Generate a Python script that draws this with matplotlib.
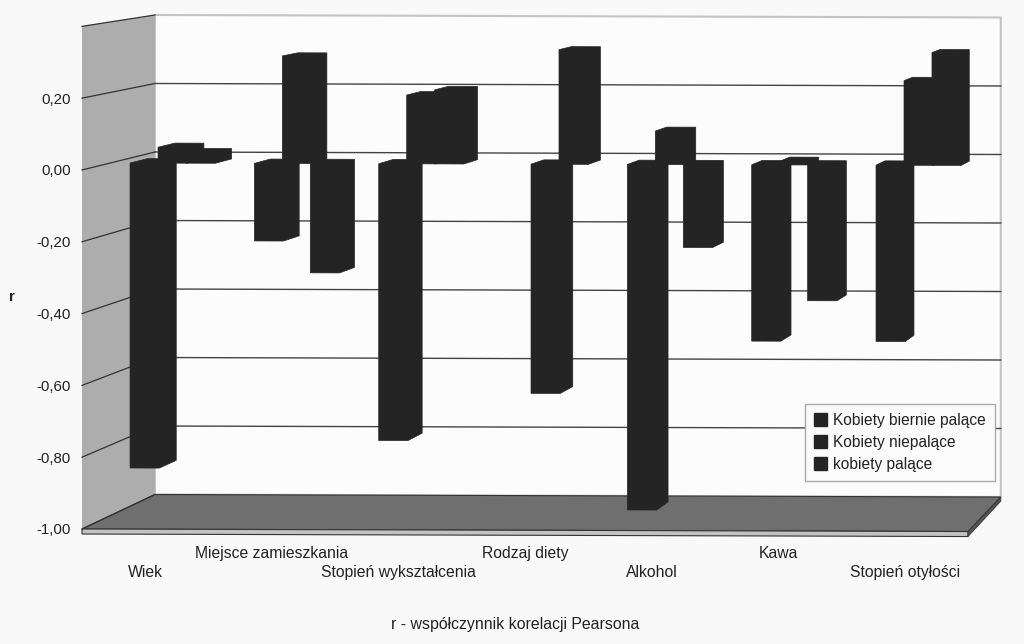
import matplotlib
matplotlib.use("Agg")
import matplotlib.pyplot as plt
from matplotlib.patches import Patch

plt.rcParams["font.family"] = ["Liberation Sans", "DejaVu Sans"]

# Values
categories = ["Wiek", "Miejsce zamieszkania", "Stopień wykształcenia", "Rodzaj diety",
              "Alkohol", "Kawa", "Stopień otyłości"]
biernie = [-0.865, -0.22, -0.785, None, -0.98, -0.50, -0.50]
niepalace = [0.045, 0.305, 0.195, -0.65, 0.095, 0.01, 0.24]
palace = [0.03, -0.31, 0.21, 0.325, -0.235, -0.385, 0.32]
series_names = ["Kobiety biernie palące", "Kobiety niepalące", "kobiety palące"]
r_ticks = [-1.0, -0.8, -0.6, -0.4, -0.2, 0.0, 0.2]
r_top = 0.4

BAR = "#242424"
GRID = "#444444"
EDGE = "#c4c4c4"


# Excel style 3D: move a point of the front plane back to depth d (0 front, 1 back wall)
def project(x, r, d):
    left = -0.5 + d * 0.5766
    right = 6.5 + d * 0.259
    xp = left + (x + 0.5) / 7 * (right - left)
    yp = r * (1 - 0.046 * d) + 0.0501 * d - 0.007 * (x + 0.5) / 7
    return xp, yp


def poly(ax, pts, **kw):
    xy = [project(*p) for p in pts]
    ax.fill([p[0] for p in xy], [p[1] for p in xy], clip_on=False, **kw)


def line(ax, p1, p2, **kw):
    a = project(*p1)
    b = project(*p2)
    ax.plot([a[0], b[0]], [a[1], b[1]], clip_on=False, **kw)


fig = plt.figure(figsize=(10.24, 6.44), dpi=100, facecolor="#f9f9f9")
ax = fig.add_axes([82 / 1024, (644 - 529) / 644, 886 / 1024, 503 / 644])
ax.set_xlim(-0.5, 6.5)
ax.set_ylim(-1.0, r_top + 0.001)
ax.patch.set_alpha(0)
for s in ax.spines.values():
    s.set_visible(False)

# back wall, side wall, floor
poly(ax, [(-0.5, -1, 1), (-0.5, r_top, 1), (6.5, r_top, 1), (6.5, -1, 1)],
     facecolor="#fcfcfc", edgecolor=EDGE, lw=1.5, zorder=1)
poly(ax, [(-0.5, -1, 0), (-0.5, r_top, 0), (-0.5, r_top, 1), (-0.5, -1, 1)],
     facecolor="#adadad", edgecolor="none", zorder=2)
poly(ax, [(-0.5, -1, 0), (-0.5, -1, 1), (6.5, -1, 1), (6.5, -1, 0)],
     facecolor="#6f6f6f", edgecolor="#333333", lw=0.8, zorder=2)
poly(ax, [(-0.5, -1, 0), (6.5, -1, 0), (6.5, -1.014, 0), (-0.5, -1.014, 0)],
     facecolor="#c2c2c2", edgecolor="#333333", lw=0.8, zorder=2)
poly(ax, [(6.5, -1, 0), (6.5, -1, 1), (6.5, -1.012, 1), (6.5, -1.014, 0)],
     facecolor="#555555", edgecolor="#333333", lw=0.6, zorder=2)

# gridlines run along the side wall and the back wall
for r in r_ticks + [r_top]:
    line(ax, (-0.5, r, 0), (-0.5, r, 1), color="#333333", lw=0.9, zorder=3)
    if -1 < r < r_top:
        line(ax, (-0.5, r, 1), (6.5, r, 1), color=GRID, lw=1.0, zorder=3)

# bars
d0 = 0.39
d1 = 0.63
step = 0.225
width = 0.235
for j, values in enumerate([biernie, niepalace, palace]):
    for i, v in enumerate(values):
        if v is None:
            continue
        x0 = i + (j - 1) * step - width / 2
        x1 = x0 + width
        low = min(v, 0)
        high = max(v, 0)
        poly(ax, [(x0, low, d0), (x0, high, d0), (x0, high, d1),
                  (x1, high, d1), (x1, low, d1), (x1, low, d0)],
             facecolor=BAR, edgecolor=BAR, lw=0.5, zorder=4 + j)

# axis text
ax.set_yticks(r_ticks)
ax.set_yticklabels([f"{t:.2f}".replace(".", ",") for t in r_ticks], fontsize=10.8, color="#222222")
ax.tick_params(axis="y", length=0, pad=8)
ax.set_xticks(range(7))
ax.set_xticklabels(categories, fontsize=11.3, color="#222222")
ax.tick_params(axis="x", length=0)
# category names sit on two rows
for i, tick in enumerate(ax.xaxis.get_major_ticks()):
    tick.set_pad(26 if i % 2 == 0 else 12)
ax.set_ylabel("r", rotation=0, fontsize=10.8, fontweight="bold", color="#222222")
ax.yaxis.set_label_coords(-0.079, 0.447)
ax.set_xlabel("r - współczynnik korelacji Pearsona", fontsize=11.4, color="#222222")
ax.xaxis.set_label_coords(433 / 886, -88 / 503)

# legend
handles = [Patch(facecolor=BAR, edgecolor=BAR, label=n) for n in series_names]
leg = ax.legend(handles=handles, loc="lower left",
                bbox_to_anchor=(805 / 1024, (644 - 481) / 644), bbox_transform=fig.transFigure,
                fontsize=11.2, fancybox=False, framealpha=1, facecolor="#fbfbfb",
                edgecolor="#aaaaaa", handlelength=0.85, handleheight=0.85,
                handletextpad=0.4, labelspacing=0.45, borderpad=0.58, borderaxespad=0)
leg.set_zorder(10)
leg.get_frame().set_linewidth(1.0)
for t in leg.get_texts():
    t.set_color("#222222")

fig.savefig("out.png", dpi=100, facecolor=fig.get_facecolor())
